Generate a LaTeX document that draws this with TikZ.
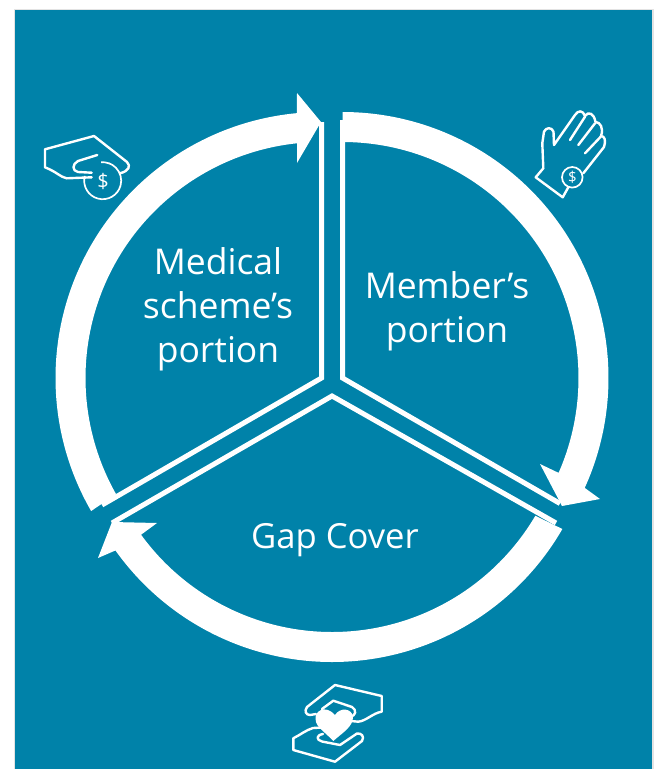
\documentclass[tikz,border=0pt]{standalone}
\usepackage{fontspec}
\setmainfont{Open Sans}
\definecolor{teal1}{HTML}{0082A9}
\tikzset{
  px/.style={x=1pt,y=1pt},
  ring/.style={fill=white,draw=none},
  divider/.style={draw=white,line width=5pt,miter limit=10,line cap=butt},
  icon/.style={draw=white,line width=2.4pt,line join=round,line cap=round},
  iconthin/.style={draw=white,line width=1.7pt},
  label/.style={text=white,font=\fontsize{35.5}{44}\selectfont,align=center,inner sep=0pt}
}
\begin{document}
\begin{tikzpicture}[px]
\useasboundingbox (0,0) rectangle (659,-769);
\fill[gray!22] (13.5,-8.5) rectangle (653.5,-769);
\fill[teal1] (15,-10) rectangle (652,-769);

% left sector
\coordinate (cl) at (321.5,-378);
\fill[ring] ([shift={(210:266)}]cl) arc[start angle=210,end angle=95.3,radius=266]
  -- (297,-93) -- (321,-122) -- (297,-163)
  -- ([shift={(95.9:236)}]cl) arc[start angle=95.9,end angle=209.5,radius=236] -- cycle;
\draw[divider] (321.5,-122) -- (cl) -- (102,-505);

% right sector
\coordinate (cr) at (342.5,-378);
\fill[ring] ([shift={(90:266)}]cr) arc[start angle=90,end angle=-24.4,radius=266]
  -- (600,-499) -- (562,-506) -- (540,-464)
  -- ([shift={(-23.7:236)}]cr) arc[start angle=-23.7,end angle=90,radius=236] -- cycle;
\draw[divider] (342.5,-120) -- (cr) -- (560,-503.5);

% bottom sector
\coordinate (cb) at (332,-396);
\fill[ring] ([shift={(-30:266)}]cb) arc[start angle=-30,end angle=-144.5,radius=266]
  -- (98,-558) -- (112,-522) -- (157,-523)
  -- ([shift={(-144:236)}]cb) arc[start angle=-144,end angle=-30.5,radius=236] -- cycle;
\draw[divider] (112,-523) -- (cb) -- (556,-523);

% labels
\node[label] (medical) at (218,-309.5) {Medical\\scheme’s\\portion};
\node[label] (member) at (447,-311) {Member’s\\portion};
\node[label,font=\fontsize{34.6}{44}\selectfont] (gap) at (335,-540) {Gap Cover};

% icon: hand dropping a coin
\draw[icon] (91.7,-177.3) -- (66.7,-178.3) .. controls (60,-177) and (57,-172) .. (45,-167.3) -- (45,-149.3) -- (94,-136) -- (127,-162)
  .. controls (131,-166) and (129,-171) .. (120,-173.3);
\draw[icon] (97.3,-155) -- (78,-161) .. controls (72,-164) and (72,-171) .. (78,-172) -- (91.7,-172.7);
\draw[iconthin] (102.7,-180.7) ++(165:18.5) arc[start angle=165,end angle=455,radius=18.5];
\node[text=white,font=\fontsize{20}{20}\selectfont,inner sep=0pt] (dollar1) at (103,-181) {\$};

% icon: open hand with coin
\draw[icon] (568.3,-187.3) -- (562.7,-197.3) -- (535.7,-177.3) -- (543.3,-168.3) -- (542.3,-143.3) -- (544,-131.7)
  .. controls (546,-127) and (552,-127) .. (553.5,-131.7) -- (554,-145) -- (575,-115)
  .. controls (578,-110) and (583,-110) .. (585,-116)
  .. controls (588,-111) and (594,-113) .. (595.5,-122)
  .. controls (600,-122) and (604,-128) .. (601,-136)
  .. controls (605,-136) and (606,-141) .. (604,-147) -- (583.3,-173.3);
\draw[icon] (570,-140) -- (585,-116.7);
\draw[icon] (578.3,-145) -- (595,-123.3);
\draw[icon] (585,-153.3) -- (600.7,-136.7);
\draw[iconthin] (572.3,-177.3) circle[radius=10.3];
\node[text=white,font=\fontsize{15}{15}\selectfont,inner sep=0pt] (dollar2) at (572.3,-177.5) {\$};

% icon: hands with heart
\fill[white] (333.3,-741) .. controls (325,-732) and (316,-727) .. (315.7,-720)
  .. controls (314,-711) and (325,-704) .. (335,-715)
  .. controls (340,-707) and (352,-708) .. (353,-717)
  .. controls (353,-727) and (342,-733) .. (333.3,-741) -- cycle;
\draw[icon] (340,-720) -- (358.3,-721.7) .. controls (366,-721) and (373,-713) .. (381.7,-711.7) -- (381.7,-696) -- (335,-685) -- (307,-707)
  .. controls (304,-711) and (306,-715) .. (310,-715) -- (316,-714);
\draw[icon] (322,-709) -- (333.3,-700.7) -- (352,-707) .. controls (357,-710) and (356,-716) .. (350,-716.7) -- (340,-716.7);
\draw[icon] (322,-727.5) -- (313,-728) .. controls (306,-730) and (300,-735) .. (293.3,-738.3) -- (293.3,-750) -- (335,-761.7) -- (362,-741)
  .. controls (365,-736) and (361,-733) .. (357,-733.5) -- (340,-745) -- (322,-741.5)
  .. controls (316,-740) and (316,-735) .. (323,-734);
\end{tikzpicture}
\end{document}
